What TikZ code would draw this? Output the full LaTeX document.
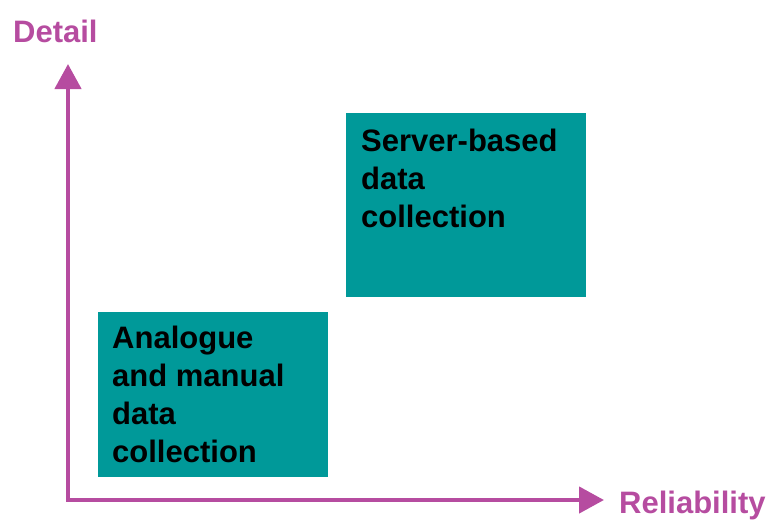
\documentclass[tikz,border=0pt]{standalone}
\usepackage{fontspec}
\setmainfont{Liberation Sans}
\usetikzlibrary{arrows.meta}
\definecolor{axispurple}{RGB}{182,76,160}
\definecolor{boxteal}{RGB}{0,153,153}
\begin{document}
\begin{tikzpicture}[x=1pt,y=-1pt,
  axis/.style={draw=axispurple,line width=4.5pt,{Triangle[length=25pt,width=26pt]}-{Triangle[length=25pt,width=26pt]}},
  tealbox/.style={fill=boxteal,draw=none,inner sep=0pt,minimum width=#1},
  boxtext/.style={anchor=base west,inner sep=0pt,align=left,font=\bfseries\fontsize{31}{38}\selectfont,text=black},
  axislabel/.style={anchor=base west,inner sep=0pt,font=\bfseries\fontsize{31}{36}\selectfont,text=axispurple}]
\useasboundingbox (0,0) rectangle (771,520);
\coordinate (corner) at (68,500);
\coordinate (ytip) at (68,64);
\coordinate (xtip) at (604,500);
\draw[axis] (ytip) -- (corner) -- (xtip);
\node[tealbox=240pt,minimum height=184pt,anchor=north west] (server) at (346,113) {};
\node[tealbox=230pt,minimum height=165pt,anchor=north west] (analogue) at (98,312) {};
\node[boxtext] (servertext) at (361,227) {Server-based\\data\\collection};
\node[boxtext] (analoguetext) at (112,462) {Analogue\\and manual\\data\\collection};
\node[axislabel] (detail) at (13,42) {Detail};
\node[axislabel] (reliability) at (619,513) {Reliability};
\end{tikzpicture}
\end{document}
